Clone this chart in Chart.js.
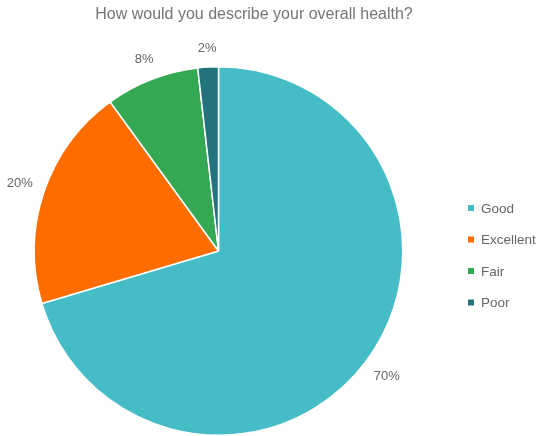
<!DOCTYPE html>
<html>
<head>
<meta charset="utf-8">
<script src="https://cdn.jsdelivr.net/npm/chart.js@4"></script>
<style>
html,body{margin:0;padding:0;background:#fff;}
#wrap{width:537px;height:436px;}
</style>
</head>
<body>
<div id="wrap"><canvas id="chart" width="537" height="436"></canvas></div>
<script>
const titleText = "How would you describe your overall health?";
const labels = ["Good", "Excellent", "Fair", "Poor"];
const values = [70.4, 19.6, 8.2, 1.8];
const colors = ["#46bdc6", "#ff6d01", "#34a853", "#22737b"];

const FONT = "'Liberation Sans', Arial, sans-serif";

// title, percent labels outside the pie, legend on the right
const extras = {
    id: "extras",
    afterDraw(chart) {
        const ctx = chart.ctx;
        const meta = chart.getDatasetMeta(0);
        const total = values.reduce((a, b) => a + b, 0);

        ctx.save();
        ctx.fillStyle = "#757575";
        ctx.font = "16px " + FONT;
        ctx.textAlign = "center";
        ctx.textBaseline = "middle";
        ctx.fillText(titleText, 254, 15);

        ctx.font = "13px " + FONT;
        ctx.fillStyle = "#666666";
        meta.data.forEach((arc, i) => {
            const txt = Math.round(values[i] / total * 100) + "%";
            const mid = (arc.startAngle + arc.endAngle) / 2;
            const cx = Math.cos(mid), cy = Math.sin(mid);
            const hw = ctx.measureText(txt).width / 2, hh = 7;
            const r = arc.outerRadius + 11 + Math.abs(cx) * hw + Math.abs(cy) * hh;
            ctx.fillText(txt, arc.x + cx * r, arc.y + cy * r);
        });

        ctx.font = "13.5px " + FONT;
        ctx.textAlign = "left";
        labels.forEach((lab, i) => {
            const y = 208 + i * 31.5;
            ctx.fillStyle = colors[i];
            ctx.fillRect(468, y - 3, 6, 6);
            ctx.fillStyle = "#666666";
            ctx.fillText(lab, 481, y + 1);
        });
        ctx.restore();
    }
};

new Chart(document.getElementById("chart"), {
    type: "pie",
    data: {
        labels: labels,
        datasets: [{
            data: values,
            backgroundColor: colors,
            borderColor: "#ffffff",
            borderWidth: 1.5
        }]
    },
    options: {
        responsive: false,
        animation: false,
        layout: {padding: {left: 33, right: 133, top: 66, bottom: 0}},
        plugins: {
            legend: {display: false},
            tooltip: {enabled: false}
        }
    },
    plugins: [extras]
});
</script>
</body>
</html>
